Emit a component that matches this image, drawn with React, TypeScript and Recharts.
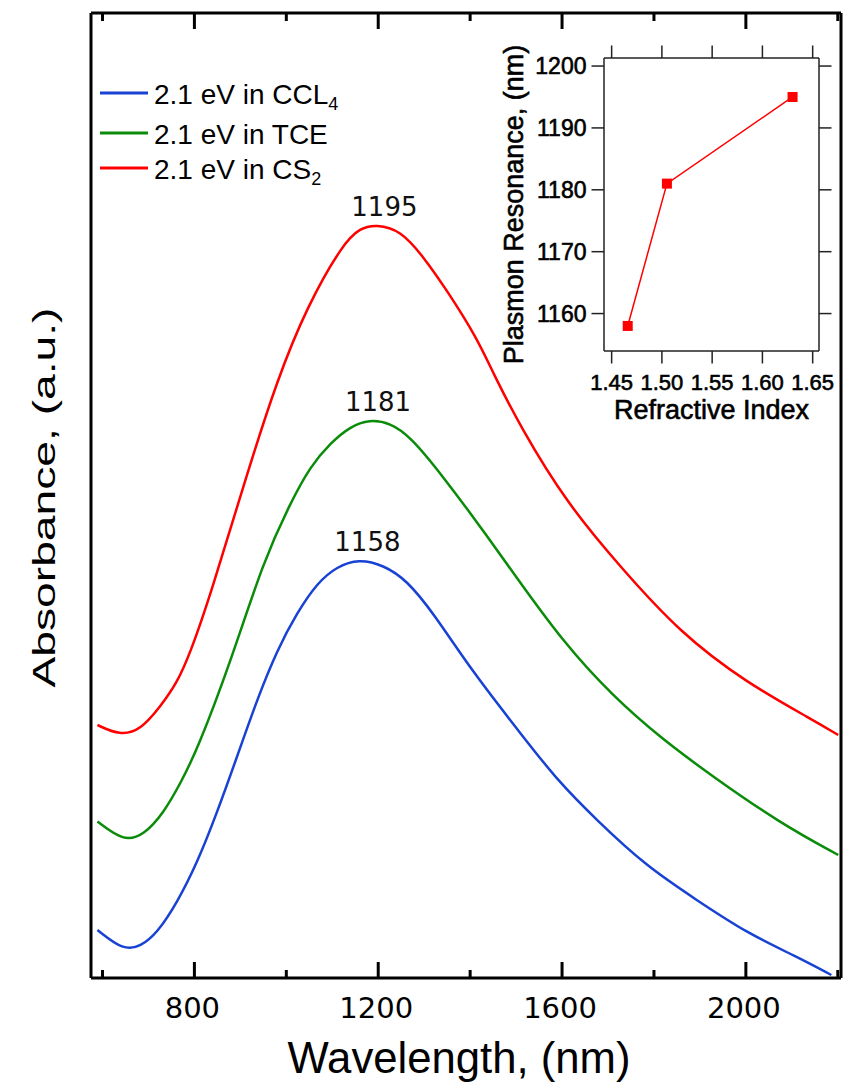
import React from 'react';
import { LineChart, Line, XAxis, YAxis, Legend, ReferenceDot } from 'recharts';

// ---- Absorbance spectra of the 2.1 eV particles in three solvents ----
// wavelength in nm, absorbance in arbitrary units
const ccl4Wavelength = [589, 646, 683, 719, 762, 806, 849, 893, 936, 980, 1023, 1067, 1110, 1158, 1211, 1262, 1320, 1407, 1515, 1589, 1675, 1784, 1893, 2002, 2110, 2186];
const ccl4Absorbance = [0.096, 0.055, 0.063, 0.09, 0.15, 0.23, 0.33, 0.443, 0.556, 0.656, 0.73, 0.79, 0.823, 0.838, 0.826, 0.796, 0.73, 0.61, 0.483, 0.396, 0.316, 0.223, 0.156, 0.09, 0.043, 0.006];

const tceWavelength = [589, 646, 690, 733, 770, 806, 878, 951, 1009, 1052, 1096, 1139, 1181, 1226, 1270, 1341, 1422, 1494, 1602, 1711, 1820, 1928, 2074, 2201];
const tceAbsorbance = [0.313, 0.273, 0.286, 0.33, 0.39, 0.456, 0.63, 0.836, 0.95, 1.023, 1.07, 1.103, 1.117, 1.11, 1.083, 1.003, 0.903, 0.81, 0.672, 0.563, 0.476, 0.403, 0.31, 0.246];

const cs2Wavelength = [589, 638, 683, 726, 762, 791, 835, 915, 980, 1045, 1124, 1161, 1195, 1248, 1298, 1349, 1415, 1450, 1509, 1610, 1726, 1857, 2002, 2146, 2201];
const cs2Absorbance = [0.506, 0.485, 0.496, 0.543, 0.59, 0.65, 0.766, 1.01, 1.196, 1.343, 1.47, 1.5, 1.507, 1.496, 1.443, 1.376, 1.28, 1.21, 1.103, 0.95, 0.823, 0.69, 0.59, 0.516, 0.486];

// ---- Plasmon resonance vs. solvent refractive index (CCl4, TCE, CS2) ----
const refractiveIndex = [1.466, 1.505, 1.63];
const peakWavelength = [1158, 1181, 1195];

// ---- Axis ticks ----
const wavelengthTicks = [600, 800, 1000, 1200, 1400, 1600, 1800, 2000, 2200];
const indexTicks = [1.45, 1.5, 1.55, 1.6, 1.65];
const resonanceTicks = [1160, 1170, 1180, 1190, 1200];

const legendNames = ['2.1 eV in CCL', '2.1 eV in TCE', '2.1 eV in CS'];
const legendSubscripts = ['4', '', '2'];

const FONT_TEXT = "'Liberation Sans', Arial, Helvetica, sans-serif";
const FONT_NUM = "'DejaVu Sans', Verdana, sans-serif";

const toPoints = (wl: number[], ab: number[]) => wl.map((w, i) => ({ wl: w, a: ab[i] }));

const series = [
  { key: 'ccl4', data: toPoints(ccl4Wavelength, ccl4Absorbance), color: '#1842d4', peak: peakWavelength[0] },
  { key: 'tce', data: toPoints(tceWavelength, tceAbsorbance), color: '#0a8c0a', peak: peakWavelength[1] },
  { key: 'cs2', data: toPoints(cs2Wavelength, cs2Absorbance), color: '#ff0000', peak: peakWavelength[2] },
].map((s, i) => ({ ...s, name: legendNames[i], sub: legendSubscripts[i] }));

const peakAbsorbance = (data: { wl: number; a: number }[], wl: number) =>
  (data.find((d) => d.wl === wl) || { a: 0 }).a;

// Main-frame ticks point into the plot; only the 400 nm steps carry numbers.
function WavelengthTick(props: any) {
  const { x, y, payload, side } = props;
  const major = payload.value % 400 === 0;
  const len = major ? 16 : 8;
  const dir = side === 'top' ? 1 : -1;
  return (
    <g>
      <line x1={x} x2={x} y1={y} y2={y + dir * len} stroke="#000" strokeWidth={3} />
      {side === 'bottom' && major && (
        <text x={x - 2} y={y + 40} textAnchor="middle" fontFamily={FONT_NUM} fontSize={29} fill="#000">
          {payload.value}
        </text>
      )}
    </g>
  );
}

const peakLabel = (text: string) => (props: any) => {
  const vb = props.viewBox || { x: 0, y: 0 };
  return (
    <text x={vb.x + 8.5} y={vb.y - 8.5} textAnchor="middle" fontFamily={FONT_NUM} fontSize={26} fill="#111">
      {text}
    </text>
  );
};

const absorbanceTitle = (props: any) => {
  const { x, y, width, height } = props.viewBox;
  const cx = x + width - 36;
  const cy = y + height / 2 + 2;
  return (
    <text
      transform={`translate(${cx},${cy}) rotate(-90)`}
      textAnchor="middle"
      fontFamily={FONT_TEXT}
      fontSize={32}
      textLength={380}
      lengthAdjust="spacingAndGlyphs"
      fill="#000"
    >
      Absorbance, (a.u.)
    </text>
  );
};

const wavelengthTitle = (props: any) => {
  const { x, y, width } = props.viewBox;
  return (
    <text
      x={x + width / 2 - 7}
      y={y + 95}
      textAnchor="middle"
      fontFamily={FONT_TEXT}
      fontSize={45}
      textLength={343}
      lengthAdjust="spacingAndGlyphs"
      fill="#000"
    >
      Wavelength, (nm)
    </text>
  );
};

const LEGEND_ROWS = [23, 63, 98];

const renderLegend = () => (
  <svg width={280} height={130}>
    {series.map((s, i) => (
      <g key={s.key}>
        <line x1={4} x2={52} y1={LEGEND_ROWS[i]} y2={LEGEND_ROWS[i]} stroke={s.color} strokeWidth={3} />
        <text x={58} y={LEGEND_ROWS[i] + 11} fontFamily={FONT_TEXT} fontSize={28} fill="#000">
          {s.name}
          {s.sub && (
            <tspan fontSize={18} dy={6}>
              {s.sub}
            </tspan>
          )}
        </text>
      </g>
    ))}
  </svg>
);

// ---- Inset ----
const INSET_STROKE = '#222';

function IndexTick(props: any) {
  const { x, y, payload, side } = props;
  const dir = side === 'top' ? -1 : 1;
  return (
    <g>
      <line x1={x} x2={x} y1={y} y2={y + dir * 12.5} stroke={INSET_STROKE} strokeWidth={1.5} />
      {side === 'bottom' && (
        <text x={x} y={y + 39} textAnchor="middle" fontFamily={FONT_TEXT} fontSize={22} fill="#000" stroke="#000" strokeWidth={0.6}>
          {payload.value.toFixed(2)}
        </text>
      )}
    </g>
  );
}

function ResonanceTick(props: any) {
  const { x, y, payload, side } = props;
  const dir = side === 'right' ? 1 : -1;
  return (
    <g>
      <line x1={x} x2={x + dir * 12.5} y1={y} y2={y} stroke={INSET_STROKE} strokeWidth={1.5} />
      {side === 'left' && (
        <text x={x - 17.5} y={y + 8} textAnchor="end" fontFamily={FONT_TEXT} fontSize={23} fill="#000" stroke="#000" strokeWidth={0.6}>
          {payload.value}
        </text>
      )}
    </g>
  );
}

const SquareDot = (props: any) => {
  const { cx, cy, index } = props;
  return <rect key={`sq-${index}`} x={cx - 5} y={cy - 5} width={10} height={10} fill="#ff0000" />;
};

const indexTitle = (props: any) => {
  const { x, y, width } = props.viewBox;
  return (
    <text x={x + width / 2} y={y + 68} textAnchor="middle" fontFamily={FONT_TEXT} fontSize={27} fill="#000" stroke="#000" strokeWidth={0.6}>
      Refractive Index
    </text>
  );
};

const resonanceTitle = (props: any) => {
  const { x, y, width, height } = props.viewBox;
  const cx = x + width - 81;
  const cy = y + height / 2;
  return (
    <text
      transform={`translate(${cx},${cy}) rotate(-90)`}
      textAnchor="middle"
      fontFamily={FONT_TEXT}
      fontSize={27}
      fill="#000"
      stroke="#000"
      strokeWidth={0.6}
    >
      Plasmon Resonance, (nm)
    </text>
  );
};

function ResonanceInset() {
  const data = refractiveIndex.map((n, i) => ({ n, peak: peakWavelength[i] }));
  const axisLine = { stroke: INSET_STROKE, strokeWidth: 1.5 };
  return (
    <div style={{ position: 'absolute', left: 470, top: 30 }}>
      <LineChart width={370} height={400} data={data} margin={{ top: 0, right: 0, bottom: 0, left: 0 }}>
        <XAxis
          dataKey="n"
          type="number"
          domain={[1.4424, 1.6563]}
          allowDataOverflow
          ticks={indexTicks}
          interval={0}
          height={79}
          tickSize={0}
          tickMargin={0}
          tickLine={false}
          axisLine={axisLine}
          tick={(p: any) => <IndexTick {...p} side="bottom" />}
          label={indexTitle}
        />
        <XAxis
          xAxisId="top"
          orientation="top"
          dataKey="n"
          type="number"
          domain={[1.4424, 1.6563]}
          allowDataOverflow
          ticks={indexTicks}
          interval={0}
          height={28}
          tickSize={0}
          tickMargin={0}
          tickLine={false}
          axisLine={axisLine}
          tick={(p: any) => <IndexTick {...p} side="top" />}
        />
        <YAxis
          type="number"
          domain={[1153.95, 1201.3]}
          allowDataOverflow
          ticks={resonanceTicks}
          interval={0}
          width={134}
          tickSize={0}
          tickMargin={0}
          tickLine={false}
          axisLine={axisLine}
          tick={(p: any) => <ResonanceTick {...p} side="left" />}
          label={resonanceTitle}
        />
        <YAxis
          yAxisId="right"
          orientation="right"
          type="number"
          domain={[1153.95, 1201.3]}
          allowDataOverflow
          ticks={resonanceTicks}
          interval={0}
          width={21}
          tickSize={0}
          tickMargin={0}
          tickLine={false}
          axisLine={axisLine}
          tick={(p: any) => <ResonanceTick {...p} side="right" />}
        />
        <Line
          dataKey="peak"
          stroke="#ff0000"
          strokeWidth={1.5}
          dot={SquareDot}
          activeDot={false}
          isAnimationActive={false}
        />
      </LineChart>
    </div>
  );
}

export default function App() {
  const frameLine = { stroke: '#000', strokeWidth: 3 };
  return (
    <div style={{ position: 'absolute', left: 0, top: 0, width: 844, height: 1091, background: '#fff' }}>
      <LineChart width={844} height={1091} margin={{ top: 0, right: 2, bottom: 0, left: 90 }}>
        <XAxis
          dataKey="wl"
          type="number"
          domain={[575, 2207]}
          allowDataOverflow
          ticks={wavelengthTicks}
          interval={0}
          height={113}
          tickSize={0}
          tickMargin={0}
          tickLine={false}
          axisLine={frameLine}
          tick={(p: any) => <WavelengthTick {...p} side="bottom" />}
          label={wavelengthTitle}
        />
        <XAxis
          xAxisId="top"
          orientation="top"
          dataKey="wl"
          type="number"
          domain={[575, 2207]}
          allowDataOverflow
          ticks={wavelengthTicks}
          interval={0}
          height={13}
          tickSize={0}
          tickMargin={0}
          tickLine={false}
          axisLine={frameLine}
          tick={(p: any) => <WavelengthTick {...p} side="top" />}
        />
        <YAxis
          type="number"
          domain={[0, 1.93]}
          allowDataOverflow
          width={1}
          tick={false}
          tickLine={false}
          axisLine={frameLine}
          label={absorbanceTitle}
        />
        <YAxis
          yAxisId="right"
          orientation="right"
          type="number"
          domain={[0, 1.93]}
          allowDataOverflow
          width={1}
          tick={false}
          tickLine={false}
          axisLine={frameLine}
        />
        <Legend
          layout="vertical"
          align="center"
          verticalAlign="middle"
          content={renderLegend}
          wrapperStyle={{ left: 96, top: 70, width: 280, height: 130 }}
        />
        {series.map((s) => (
          <Line
            key={s.key}
            data={s.data}
            dataKey="a"
            name={s.name}
            type="basis"
            stroke={s.color}
            strokeWidth={2.5}
            dot={false}
            activeDot={false}
            isAnimationActive={false}
          />
        ))}
        {series.map((s) => (
          <ReferenceDot
            key={`peak-${s.key}`}
            x={s.peak}
            y={peakAbsorbance(s.data, s.peak)}
            r={0}
            fill="none"
            stroke="none"
            label={peakLabel(String(s.peak))}
          />
        ))}
      </LineChart>
      <ResonanceInset />
    </div>
  );
}
